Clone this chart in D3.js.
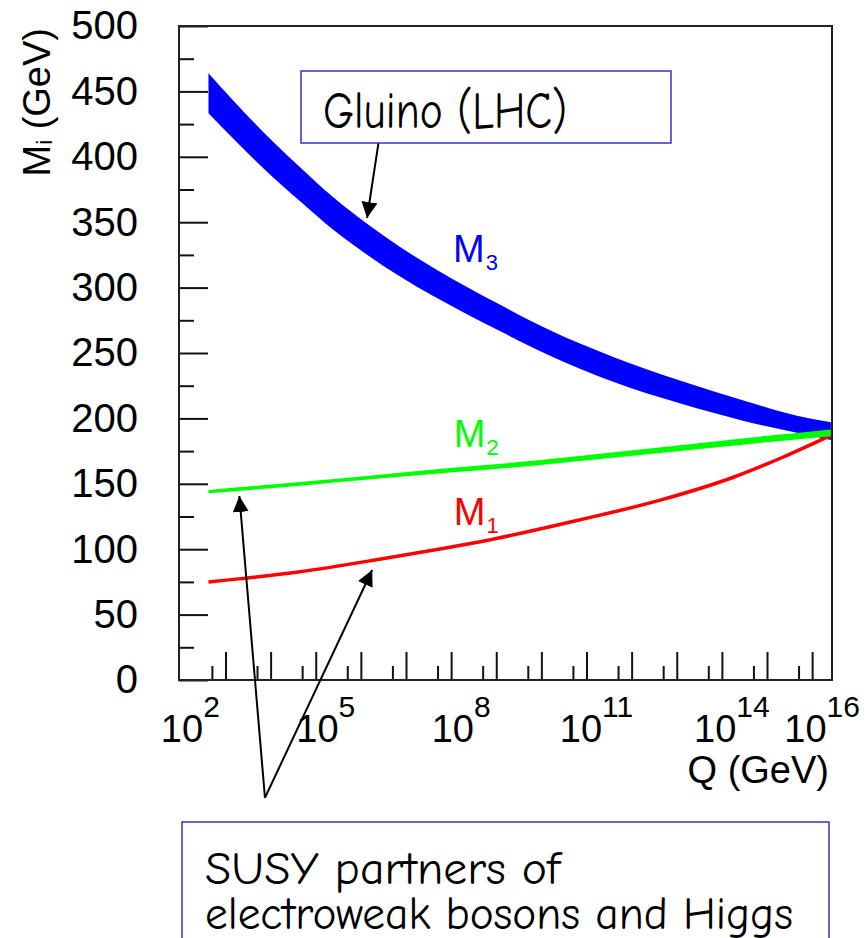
<!DOCTYPE html>
<html>
<head>
  <meta charset="UTF-8">
  <style>
    body { margin: 0; background: #fff; }
    svg { display: block; }
    .axis text { font-family: "Liberation Sans", Arial, sans-serif; }
    .note { font-family: "Comic Sans MS", "Comic Neue", "DejaVu Sans", sans-serif; }
  </style>
</head>
<body>
<svg></svg>

<script src="https://d3js.org/d3.v7.min.js"></script>
<script>

// ---- data ----
// gluino band M3 (Q in GeV, lower / upper edge in GeV)
const m3Q     = [4.2e2, 1.48e3, 8.1e3, 4.5e4, 2.45e5, 1.35e6, 7.4e6, 4.1e7, 2.24e8, 1.2e9, 1.32e10, 3.9e11, 1.17e13, 3.55e14, 4.6e15, 2.6e16];
const m3Upper = [463.8, 443, 416.5, 392, 369, 349, 331, 315, 300.5, 287, 268.5, 247, 229, 213, 202, 197];
const m3Lower = [433.3, 414, 389, 366, 344.2, 325.4, 308.4, 293.3, 279.6, 266.8, 249, 228, 211.5, 197.5, 189, 183.5];

// wino M2 (narrow band)
const m2Q     = [4.2e2, 4.5e4, 2.6e6, 9.5e7, 5.6e9, 2e11, 1.17e13, 3.2e14, 2.6e16];
const m2Lower = [142.7, 148.6, 154.0, 158.6, 163.6, 169.0, 175.1, 180.1, 186.4];
const m2Upper = [145.3, 151.4, 157.0, 162.0, 167.4, 173.0, 179.5, 184.9, 191.6];

// bino M1 (line)
const m1Q   = [4.2e2, 4.5e4, 2.6e6, 9.5e7, 4.4e8, 7.2e10, 4.3e12, 1.8e14, 2.3e15, 2.6e16];
const m1Val = [75, 82.8, 92.3, 101.5, 105.7, 122.5, 137.5, 155, 170.5, 187];

// axes
const yMajor = [0, 50, 100, 150, 200, 250, 300, 350, 400, 450, 500];
const yMinor = [25, 75, 125, 175, 225, 275, 325, 375, 425, 475];
const xMajor = [1e3, 1e4, 1e5, 1e6, 1e7, 1e8, 1e9, 1e10, 1e11, 1e12, 1e13, 1e14, 1e15, 1e16];
const xMinor = [5e2, 5e3, 5e4, 5e5, 5e6, 5e7, 5e8, 5e9, 5e10, 5e11, 5e12, 5e13, 5e14, 5e15];
const xLabelQ   = [1e2, 1e5, 1e8, 1e11, 1e14, 1e16];
const xLabelExp = ["2", "5", "8", "11", "14", "16"];

// curve labels: [main, sub, colour, Q, M]
const curveLabels = [
  ["M", "3", "#0000ff", 1.1e8, 319.8],
  ["M", "2", "#00ff00", 1.15e8, 178.4],
  ["M", "1", "#ff0000", 1.15e8, 118.5]
];

// arrows: [fromQ, fromM, toQ, toM]
const arrows = [
  [2.45e6, 410.3, 1.37e6, 353.2],
  [7.5e3, -90, 2.03e3, 140.7],
  [7.5e3, -90, 1.78e6, 84.1]
];

const width = 866, height = 938;
const mLeft = 179, mRight = 832, mTop = 26, mBottom = 680;

const svg = d3.select("svg")
    .attr("width", width)
    .attr("height", height);

const x = d3.scaleLog()
    .domain([Math.pow(10, 1.97), Math.pow(10, 16.44)])
    .range([mLeft, mRight]);

const y = d3.scaleLinear()
    .domain([0, 500])
    .range([mBottom, mTop]);

// arrow head
svg.append("defs").append("marker")
    .attr("id", "head")
    .attr("viewBox", "0 -8 16 16")
    .attr("refX", 16)
    .attr("refY", 0)
    .attr("markerWidth", 16)
    .attr("markerHeight", 16)
    .attr("markerUnits", "userSpaceOnUse")
    .attr("orient", "auto")
  .append("path")
    .attr("d", "M0,-8L16,0L0,8Z")
    .attr("fill", "#000");

// bands and line
const band = (qs, lo, hi) => d3.area()
    .x((d, i) => x(qs[i]))
    .y0((d, i) => y(lo[i]))
    .y1((d, i) => y(hi[i]))
    .curve(d3.curveMonotoneX)(qs);

svg.append("path")
    .attr("d", band(m3Q, m3Lower, m3Upper))
    .attr("fill", "#0000ff");

svg.append("path")
    .attr("d", d3.line()
        .x((d, i) => x(m1Q[i]))
        .y((d, i) => y(m1Val[i]))
        .curve(d3.curveMonotoneX)(m1Q))
    .attr("fill", "none")
    .attr("stroke", "#ff0000")
    .attr("stroke-width", 3.5);

svg.append("path")
    .attr("d", band(m2Q, m2Lower, m2Upper))
    .attr("fill", "#00ff00");

// axes ticks
svg.append("g")
    .attr("class", "axis")
    .attr("transform", `translate(0,${mBottom})`)
    .call(d3.axisBottom(x).tickValues(xMajor).tickSize(-28).tickSizeOuter(0).tickFormat(""))
    .call(g => g.select(".domain").remove());

svg.append("g")
    .attr("class", "axis")
    .attr("transform", `translate(0,${mBottom})`)
    .call(d3.axisBottom(x).tickValues(xMinor).tickSize(-14).tickSizeOuter(0).tickFormat(""))
    .call(g => g.select(".domain").remove());

svg.append("g")
    .attr("class", "axis")
    .attr("transform", `translate(${mLeft},0)`)
    .call(d3.axisLeft(y).tickValues(yMajor).tickSize(-29).tickSizeOuter(0).tickPadding(41))
    .call(g => g.select(".domain").remove())
    .call(g => g.selectAll("text")
        .attr("font-size", 40)
        .attr("fill", "#000"));

svg.append("g")
    .attr("class", "axis")
    .attr("transform", `translate(${mLeft},0)`)
    .call(d3.axisLeft(y).tickValues(yMinor).tickSize(-15).tickSizeOuter(0).tickFormat(""))
    .call(g => g.select(".domain").remove());

svg.selectAll(".axis line")
    .attr("stroke", "#111")
    .attr("stroke-width", 2);

// frame
svg.append("rect")
    .attr("x", mLeft)
    .attr("y", mTop)
    .attr("width", mRight - mLeft)
    .attr("height", mBottom - mTop)
    .attr("fill", "none")
    .attr("stroke", "#222")
    .attr("stroke-width", 2);

// x tick labels 10^n
const xl = svg.append("g")
    .attr("class", "axis")
    .selectAll("text")
    .data(xLabelQ)
    .join("text")
    .attr("x", d => x(d) + 10)
    .attr("y", 742)
    .attr("text-anchor", "middle")
    .attr("font-size", 38)
    .attr("fill", "#000");
xl.append("tspan").text("10");
xl.append("tspan")
    .attr("dy", -25)
    .attr("font-size", 30)
    .text((d, i) => xLabelExp[i]);

// axis titles
svg.append("text")
    .attr("x", 829)
    .attr("y", 783)
    .attr("text-anchor", "end")
    .attr("font-family", "Liberation Sans, Arial, sans-serif")
    .attr("font-size", 38)
    .text("Q (GeV)");

const yt = svg.append("text")
    .attr("transform", "translate(50,28) rotate(-90)")
    .attr("text-anchor", "end")
    .attr("font-family", "Liberation Sans, Arial, sans-serif")
    .attr("font-size", 38);
yt.append("tspan").text("M");
yt.append("tspan").attr("font-size", 22).attr("dy", 2).text("i");
yt.append("tspan").attr("dy", -2).text(" (GeV)");

// curve labels
const cl = svg.selectAll(".clabel")
    .data(curveLabels)
    .join("text")
    .attr("class", "clabel")
    .attr("x", d => x(d[3]))
    .attr("y", d => y(d[4]))
    .attr("font-family", "Liberation Sans, Arial, sans-serif")
    .attr("font-size", 38)
    .attr("fill", d => d[2]);
cl.append("tspan").text(d => d[0]);
cl.append("tspan")
    .attr("dx", 1)
    .attr("dy", 8)
    .attr("font-size", 22)
    .text(d => d[1]);

// annotation boxes
svg.append("rect")
    .attr("x", 301)
    .attr("y", 71)
    .attr("width", 370)
    .attr("height", 72)
    .attr("fill", "#fff")
    .attr("stroke", "#3333cc")
    .attr("stroke-width", 1.5);

svg.append("text")
    .attr("class", "note")
    .attr("x", 323)
    .attr("y", 128)
    .attr("font-size", 52)
    .attr("textLength", 244)
    .attr("lengthAdjust", "spacingAndGlyphs")
    .text("Gluino (LHC)");

svg.append("rect")
    .attr("x", 182)
    .attr("y", 822)
    .attr("width", 647)
    .attr("height", 130)
    .attr("fill", "#fff")
    .attr("stroke", "#3333cc")
    .attr("stroke-width", 1.5);

svg.append("text")
    .attr("class", "note")
    .attr("x", 205)
    .attr("y", 884)
    .attr("font-size", 47)
    .attr("textLength", 355)
    .attr("lengthAdjust", "spacingAndGlyphs")
    .text("SUSY partners of");

svg.append("text")
    .attr("class", "note")
    .attr("x", 205)
    .attr("y", 929)
    .attr("font-size", 47)
    .attr("textLength", 588)
    .attr("lengthAdjust", "spacingAndGlyphs")
    .text("electroweak bosons and Higgs");

// arrows
svg.selectAll(".arrow")
    .data(arrows)
    .join("line")
    .attr("class", "arrow")
    .attr("x1", d => x(d[0]))
    .attr("y1", d => y(d[1]))
    .attr("x2", d => x(d[2]))
    .attr("y2", d => y(d[3]))
    .attr("stroke", "#000")
    .attr("stroke-width", 2)
    .attr("marker-end", "url(#head)");

</script>
</body>
</html>
